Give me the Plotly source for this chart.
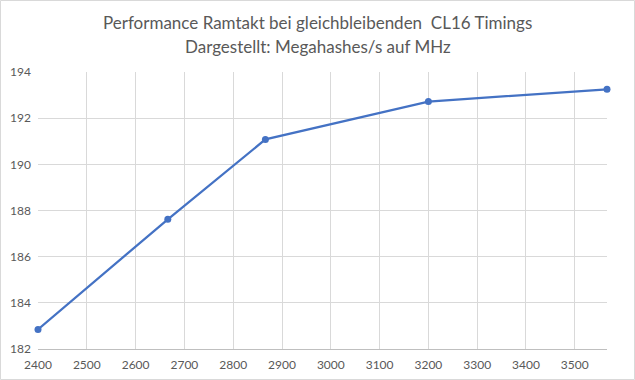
import plotly.graph_objects as go

mhz = [2400, 2666, 2866, 3200, 3566]
mhs = [182.85, 187.62, 191.08, 192.72, 193.25]
x_ticks = list(range(2400, 3600, 100))
y_ticks = [182, 184, 186, 188, 190, 192, 194]
title_lines = ["Performance Ramtakt bei gleichbleibenden  CL16 Timings",
               "Dargestellt: Megahashes/s auf MHz"]

W, H = 635, 380
L, R, T, B = 38, 28, 72, 31
pw, ph = W - L - R, H - T - B
FONT = "Lato, Noto Sans, sans-serif"

fig = go.Figure()
fig.add_trace(go.Scatter(
    x=mhz, y=mhs, mode="lines+markers",
    line=dict(color="#4472C4", width=2.25),
    marker=dict(color="#4472C4", size=7),
    cliponaxis=False, showlegend=False,
))

annotations = []
for i, (txt, ypx) in enumerate(zip(title_lines, [22.5, 46.5])):
    annotations.append(dict(
        text=txt, xref="paper", yref="paper",
        x=(W / 2 - L) / pw, y=(H - ypx - B) / ph,
        xanchor="center", yanchor="middle", showarrow=False,
        font=dict(size=17, color="#595959", family=FONT),
    ))

fig.update_layout(
    width=W, height=H,
    margin=dict(l=L, r=R, t=T, b=B, autoexpand=False),
    paper_bgcolor="white", plot_bgcolor="white",
    font=dict(family=FONT, color="#595959", size=12),
    annotations=annotations,
    hovermode=False,
    xaxis=dict(
        range=[2400, 3566], tickvals=x_ticks, ticktext=[str(v) for v in x_ticks],
        showgrid=True, gridcolor="#d9d9d9", gridwidth=1,
        showline=True, linecolor="#bfbfbf", linewidth=1,
        zeroline=False, ticks="", ticklabelstandoff=5, automargin=False,
        tickfont=dict(size=12, family=FONT, color="#595959"),
    ),
    yaxis=dict(
        range=[182, 194], tickvals=y_ticks, ticktext=[str(v) for v in y_ticks],
        showgrid=True, gridcolor="#d9d9d9", gridwidth=1,
        showline=False, zeroline=False, ticks="", ticklabelstandoff=6, automargin=False,
        tickfont=dict(size=12, family=FONT, color="#595959"),
    ),
    shapes=[dict(
        type="rect", xref="paper", yref="paper",
        x0=(0.5 - L) / pw, x1=(W - 0.5 - L) / pw,
        y0=(0.5 - B) / ph, y1=(H - 0.5 - B) / ph,
        line=dict(color="#d9d9d9", width=1), layer="below",
    )],
)

fig.write_html("out.html", config={"displayModeBar": False},
               post_script="document.body.style.margin='0';document.body.style.overflow='hidden';")
